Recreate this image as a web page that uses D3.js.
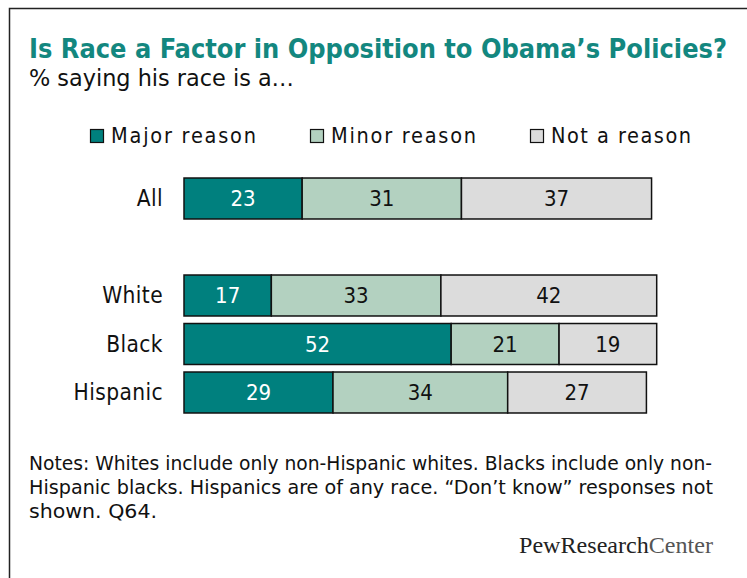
<!DOCTYPE html>
<html>
<head>
<meta charset="utf-8">
<script src="https://cdn.jsdelivr.net/npm/d3@7"></script>
<style>
  html, body { margin: 0; padding: 0; background: #fff; }
  svg { display: block; }
  .sans { font-family: "DejaVu Sans Condensed", "DejaVu Sans", sans-serif; font-stretch: condensed; }
</style>
</head>
<body>
<svg id="chart" width="747" height="578"></svg>
<script>
// Survey groups, top to bottom (a blank row separates "All" from the subgroups)
const groups = ["All", "", "White", "Black", "Hispanic"];
const seriesNames = ["Major reason", "Minor reason", "Not a reason"];
const major = [23, null, 17, 52, 29];
const minor = [31, null, 33, 21, 34];
const notReason = [37, null, 42, 19, 27];
const seriesColors = ["#00807e", "#b3d1c0", "#dcdcdc"];
const labelColors = ["#ffffff", "#111111", "#111111"];

const svg = d3.select("#chart");
const W = 747, H = 578;

// outer frame (runs off the right and bottom edges)
svg.append("rect")
  .attr("x", 9.5).attr("y", 8.5)
  .attr("width", W).attr("height", H)
  .attr("fill", "#fff").attr("stroke", "#222").attr("stroke-width", 1.5);

svg.append("text").attr("class", "sans")
  .attr("x", 29).attr("y", 58)
  .attr("font-size", 27).attr("font-weight", "bold")
  .attr("fill", "#13877f")
  .attr("textLength", 698).attr("lengthAdjust", "spacingAndGlyphs")
  .text("Is Race a Factor in Opposition to Obama\u2019s Policies?");

svg.append("text").attr("class", "sans")
  .attr("x", 29).attr("y", 86)
  .attr("font-size", 23.5).attr("fill", "#111")
  .attr("textLength", 265).attr("lengthAdjust", "spacingAndGlyphs")
  .text("% saying his race is a\u2026");

// legend
const legendX = [90, 310, 530];
const legendW = [145, 145, 140];
const lg = svg.append("g");
seriesNames.forEach((name, i) => {
  lg.append("rect")
    .attr("x", legendX[i] + 0.5).attr("y", 129.5)
    .attr("width", 13).attr("height", 13)
    .attr("fill", seriesColors[i]).attr("stroke", "#111").attr("stroke-width", 1.2);
  lg.append("text").attr("class", "sans")
    .attr("x", legendX[i] + 21).attr("y", 143)
    .attr("font-size", 21.5).attr("fill", "#111")
    .attr("textLength", legendW[i]).attr("lengthAdjust", "spacing")
    .text(name);
});

// scales
const x = d3.scaleLinear().domain([0, 100]).range([184, 184 + 513.8]);
const y = d3.scaleBand().domain(groups).range([174.25, 174.25 + 48.5 * 5]).paddingInner(0.155).paddingOuter(0.0775);

const rows = groups.map((g, i) => ({ group: g, values: [major[i], minor[i], notReason[i]] }))
  .filter(r => r.group !== "");

const rowG = svg.append("g").selectAll("g").data(rows).join("g")
  .attr("transform", d => `translate(0,${y(d.group)})`);

rowG.append("text").attr("class", "sans")
  .attr("x", 163).attr("y", y.bandwidth() / 2)
  .attr("dy", "0.35em").attr("text-anchor", "end")
  .attr("font-size", 22.5).attr("letter-spacing", 0.4).attr("fill", "#111")
  .text(d => d.group);

rowG.each(function (d) {
  const g = d3.select(this);
  let cum = 0;
  d.values.forEach((v, i) => {
    const x0 = x(cum), x1 = x(cum + v);
    cum += v;
    g.append("rect")
      .attr("x", x0).attr("y", 0)
      .attr("width", x1 - x0).attr("height", y.bandwidth())
      .attr("fill", seriesColors[i]).attr("stroke", "#111").attr("stroke-width", 1.5);
    g.append("text").attr("class", "sans")
      .attr("x", (x0 + x1) / 2).attr("y", y.bandwidth() / 2)
      .attr("dy", "0.36em").attr("text-anchor", "middle")
      .attr("font-size", 22).attr("fill", labelColors[i])
      .text(v);
  });
});

// notes
const notes = [
  { text: "Notes: Whites include only non-Hispanic whites. Blacks include only non-", w: 683 },
  { text: "Hispanic blacks. Hispanics are of any race. \u201cDon\u2019t know\u201d responses not", w: 684 },
  { text: "shown. Q64.", w: 128 }
];
svg.append("g").selectAll("text").data(notes).join("text").attr("class", "sans")
  .attr("x", 29).attr("y", (d, i) => 470 + i * 24)
  .attr("font-size", 19).attr("fill", "#111")
  .attr("textLength", d => d.w).attr("lengthAdjust", "spacingAndGlyphs")
  .text(d => d.text);

// source credit
const credit = svg.append("text")
  .attr("x", 519).attr("y", 553)
  .attr("font-family", "'Liberation Serif', 'DejaVu Serif', serif")
  .attr("font-size", 24)
  .attr("textLength", 194).attr("lengthAdjust", "spacingAndGlyphs");
credit.append("tspan").attr("fill", "#222").text("PewResearch");
credit.append("tspan").attr("fill", "#555").text("Center");
</script>
</body>
</html>
